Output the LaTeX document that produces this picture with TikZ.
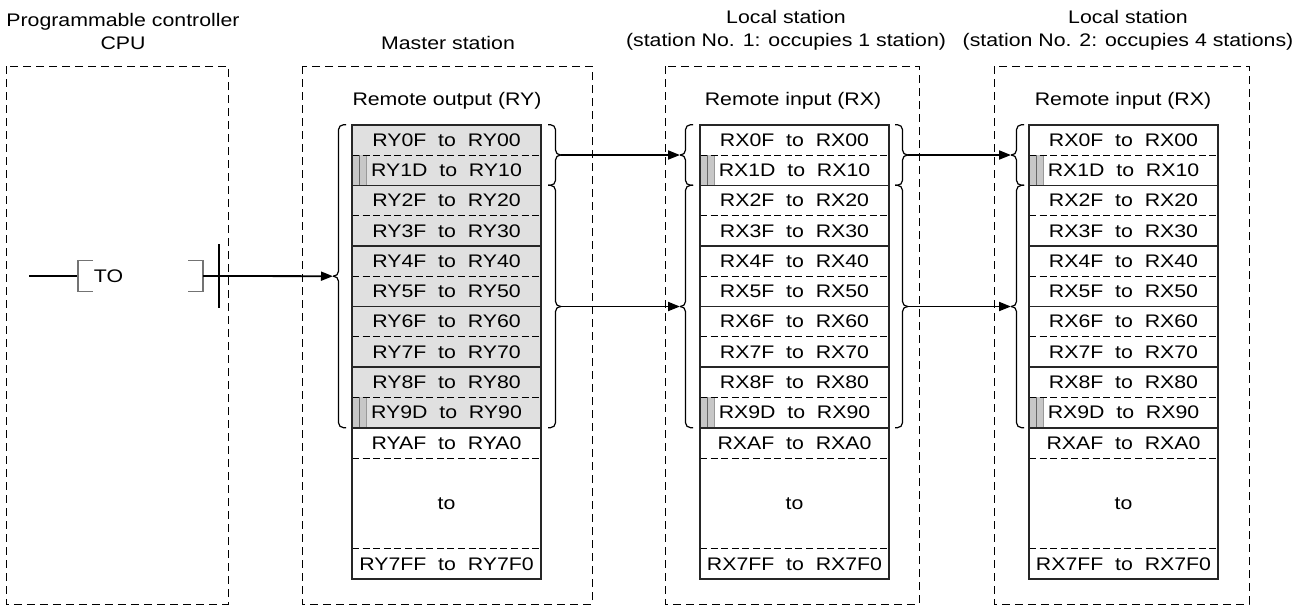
\documentclass[tikz,border=0pt]{standalone}
\usepackage{fontspec}
\setmainfont[FakeStretch=1.17]{Liberation Sans}
\usetikzlibrary{arrows.meta, positioning, calc}

% brace with its tip to the left / right: #1 name of tip, #2 tip x, #3 top y, #4 bottom y
\newcommand{\leftbrc}[4]{%
  \draw[brc] ({#2+13},#3) -- ({#2+5.5},#3) -- ({#2+5.5},{(#3+#4)/2}) -- (#2,{(#3+#4)/2});
  \draw[brc] (#2,{(#3+#4)/2}) -- ({#2+5.5},{(#3+#4)/2}) -- ({#2+5.5},#4) -- ({#2+13},#4);
  \coordinate (#1) at (#2,{(#3+#4)/2});}
\newcommand{\rightbrc}[4]{%
  \draw[brc] ({#2-13},#3) -- ({#2-5.5},#3) -- ({#2-5.5},{(#3+#4)/2}) -- (#2,{(#3+#4)/2});
  \draw[brc] (#2,{(#3+#4)/2}) -- ({#2-5.5},{(#3+#4)/2}) -- ({#2-5.5},#4) -- ({#2-13},#4);
  \coordinate (#1) at (#2,{(#3+#4)/2});}

% register table: #1 node prefix, #2 left x, #3 device letters, #4 fill of the used rows
\newcommand{\regtable}[4]{%
  \foreach \hi/\lo [count=\i from 0] in {0F/00,1D/10,2F/20,3F/30,4F/40,5F/50,6F/60,7F/70,8F/80,9D/90}
    \node[regrow, fill=#4] (#1\i) at ({#2+94.5},{139.85+30.3*\i}) {#3\hi~~to~~#3\lo};
  \node[regrow] (#1a) at ({#2+94.5},{139.85+30.3*10}) {#3AF~~to~~#3A0};
  \node[regrow, minimum height=45.5pt] (#1to) at ({#2+94.5},503.2) {to};
  \node[regrow] (#1z) at ({#2+94.5},563.9) {#37FF~~to~~#37F0};
  % unused points
  \foreach \i in {1,9} {
    \fill[black!22] (#1\i.north west) rectangle ($(#1\i.south west)+(15,0)$);
    \draw[black!60, line width=0.4pt] ($(#1\i.north west)+(7,0)$) -- ($(#1\i.south west)+(7,0)$);
    \draw[black!40, line width=0.4pt] ($(#1\i.north west)+(14,0)$) -- ($(#1\i.south west)+(14,0)$);
  }
  \foreach \i in {0,2,4,6,8} \draw[rowdash] (#1\i.south west) -- (#1\i.south east);
  \foreach \i in {1,3,5,7,9} \draw[rowline] (#1\i.south west) -- (#1\i.south east);
  \draw[rowdash] (#1a.south west) -- (#1a.south east);
  \draw[rowdash] (#1z.north west) -- (#1z.north east);
  \draw[rowline] (#10.north west) rectangle (#1z.south east);
}

\begin{document}
\begin{tikzpicture}[x=0.5pt, y=-0.5pt,
    font=\fontsize{9.1}{11.5}\selectfont,
    station/.style={draw, dash pattern=on 4pt off 2.5pt, line width=0.5pt},
    heading/.style={align=center, inner sep=0pt},
    regrow/.style={minimum width=94.5pt, minimum height=15.15pt, inner sep=0pt, outer sep=0pt},
    rowline/.style={line width=0.8pt, black!85},
    rowdash/.style={line width=0.45pt, dash pattern=on 3.5pt off 1.8pt},
    brc/.style={line width=0.6pt, rounded corners=2.5pt},
    arrow/.style={-{Triangle[length=6pt, width=4.5pt]}, line width=0.9pt},
    rung/.style={line width=0.9pt},
    bracket/.style={black!55, line width=0.6pt}
  ]
  \useasboundingbox (0,0) rectangle (1303,606);

  % stations
  \draw[station] (6,66) rectangle (228,604);
  \draw[station] (302,66) rectangle (592,604);
  \draw[station] (665,66) rectangle (919,604);
  \draw[station] (994,66) rectangle (1249,604);

  \node[heading] (cpuhead) at (123,31.5) {Programmable controller\\CPU};
  \node[heading] (msthead) at (448,43) {Master station};
  \node[heading] (lc1head) at (786,30) {Local station\\(station No. 1: occupies 1 station)};
  \node[heading] (lc2head) at (1128,30) {Local station\\(station No. 2: occupies 4 stations)};

  \node (mscap) at (447,101) {Remote output (RY)};
  \node (lacap) at (793,101) {Remote input (RX)};
  \node (lbcap) at (1123,101) {Remote input (RX)};

  % link registers
  \regtable{ms}{352}{RY}{black!12}
  \regtable{la}{700}{RX}{white}
  \regtable{lb}{1029}{RX}{white}

  \leftbrc{msL}{333}{124.7}{427.7}
  \rightbrc{msR1}{561}{124.7}{185.3}
  \rightbrc{msR2}{561}{185.3}{427.7}
  \leftbrc{laL1}{680}{124.7}{185.3}
  \leftbrc{laL2}{680}{185.3}{427.7}
  \rightbrc{laR1}{908}{124.7}{185.3}
  \rightbrc{laR2}{908}{185.3}{427.7}
  \leftbrc{lbL1}{1011}{124.7}{185.3}
  \leftbrc{lbL2}{1011}{185.3}{427.7}

  % TO instruction
  \coordinate (railL) at (29,276);
  \coordinate (insL) at (78,276);
  \node (toins) at (108.5,276) {TO};
  \coordinate (insR) at (203,276);
  \coordinate (contact) at (219,276);
  \draw[rung] (railL) -- (insL);
  \draw[bracket] (93,260.7) -- (78,260.7) -- (78,291.7) -- (93,291.7);
  \draw[bracket] (188,260.7) -- (203,260.7) -- (203,291.7) -- (188,291.7);
  \draw[rung] (insR) -- (contact);
  \draw[line width=1pt] (219,244) -- (219,308);

  \draw[arrow] (contact) -- (msL);
  \draw[arrow] (msR1) -- (laL1);
  \draw[arrow] (msR2) -- (laL2);
  \draw[arrow] (laR1) -- (lbL1);
  \draw[arrow] (laR2) -- (lbL2);
\end{tikzpicture}
\end{document}
